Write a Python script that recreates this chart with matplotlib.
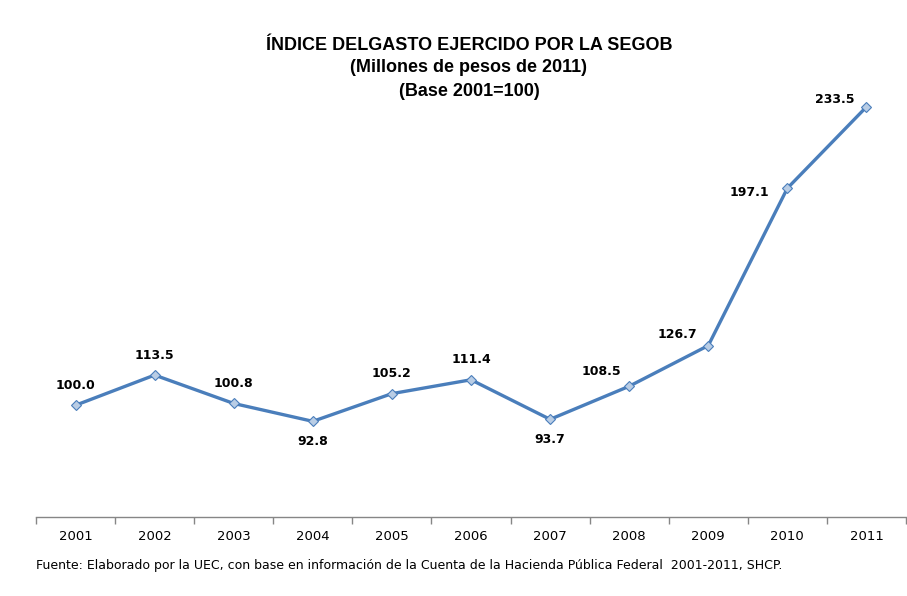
import numpy as np
import matplotlib.pyplot as plt

years = ['2001', '2002', '2003', '2004', '2005', '2006', '2007', '2008', '2009', '2010', '2011']
indice = [100.0, 113.5, 100.8, 92.8, 105.2, 111.4, 93.7, 108.5, 126.7, 197.1, 233.5]

# label offsets in pixels (dx, dy)
offsets = [(0, 20), (0, 20), (0, 20), (0, -20), (0, 20), (0, 20),
           (0, -20), (-28, 15), (-31, 11), (-38, -4), (-32, 7)]

line_color = '#4A7EBB'
fill_color = '#B9CDE5'

fig = plt.figure(figsize=(9.07, 5.96), dpi=100)
ax = fig.add_axes([36 / 907, (596 - 517) / 596, 870 / 907, (517 - 70) / 596])

x = np.arange(len(years))
ax.plot(x, indice, color=line_color, linewidth=2.4, marker='D', markersize=5,
        markerfacecolor=fill_color, markeredgecolor=line_color, markeredgewidth=0.8,
        zorder=3)

for xi, v, (dx, dy) in zip(x, indice, offsets):
    ax.annotate(f'{v:.1f}', (xi, v), xytext=(dx, dy), textcoords='offset pixels',
                ha='center', va='center', fontsize=9, fontweight='bold',
                color='#000000')

ax.set_xlim(-0.5, len(years) - 0.5)
ax.set_ylim(50, 250)
ax.set_xticks(x)
ax.set_xticklabels(years, fontsize=9.5)
ax.set_xticks(np.arange(-0.5, len(years), 1), minor=True)
ax.tick_params(axis='x', which='major', length=0, pad=9)
ax.tick_params(axis='x', which='minor', length=5, color='#868686', width=1)
ax.set_yticks([])

for s in ['top', 'right', 'left']:
    ax.spines[s].set_visible(False)
ax.spines['bottom'].set_color('#868686')
ax.spines['bottom'].set_linewidth(1)

title_lines = ['ÍNDICE DELGASTO EJERCIDO POR LA SEGOB',
               '(Millones de pesos de 2011)',
               '(Base 2001=100)']
for i, t in enumerate(title_lines):
    fig.text(469 / 907, 1 - (45 + 23 * i) / 596, t,
             ha='center', va='center', fontsize=13, fontweight='bold',
             family='Liberation Sans')

fig.text(36 / 907, 1 - 566 / 596,
         'Fuente: Elaborado por la UEC, con base en información de la Cuenta de la Hacienda Pública Federal  2001-2011, SHCP.',
         ha='left', va='center', fontsize=9)

fig.savefig('out.png', dpi=100)
